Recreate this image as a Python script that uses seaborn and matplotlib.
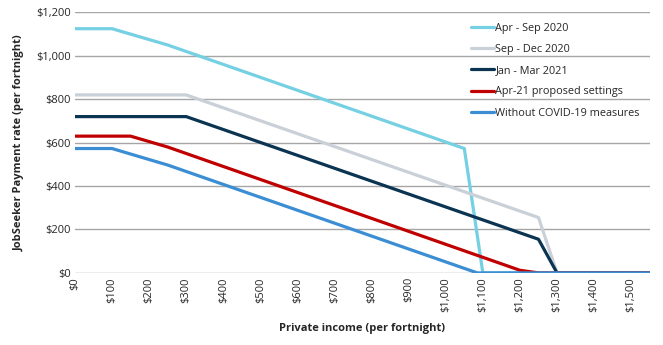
import numpy as np
import pandas as pd
import matplotlib
matplotlib.use("Agg")
import matplotlib.pyplot as plt
import seaborn as sns

series = ["Apr - Sep 2020", "Sep - Dec 2020", "Jan - Mar 2021",
          "Apr-21 proposed settings", "Without COVID-19 measures"]
colors = ["#74D0E2", "#C9D0D7", "#0A3452", "#C00000", "#3B8ED3"]

apr_sep_x = [0, 100, 250, 1050, 1100, 1550]
apr_sep_y = [1125, 1125, 1050, 573, 0, 0]
sep_dec_x = [0, 300, 1250, 1300, 1550]
sep_dec_y = [820, 820, 255, 0, 0]
jan_mar_x = [0, 300, 1250, 1300, 1550]
jan_mar_y = [720, 720, 155, 0, 0]
apr21_x = [0, 150, 250, 1200, 1250, 1550]
apr21_y = [630, 630, 580, 12, 0, 0]
nocovid_x = [0, 100, 250, 1085, 1550]
nocovid_y = [573, 573, 497, 0, 0]

xs = [apr_sep_x, sep_dec_x, jan_mar_x, apr21_x, nocovid_x]
ys = [apr_sep_y, sep_dec_y, jan_mar_y, apr21_y, nocovid_y]

rows = []
for name, x, y in zip(series, xs, ys):
    for a, b in zip(x, y):
        rows.append({"income": a, "payment": b, "series": name})
df = pd.DataFrame(rows)

sns.set_theme(style="white")
plt.rcParams["font.family"] = ["Open Sans", "DejaVu Sans"]

fig = plt.figure(figsize=(6.63, 3.45), dpi=100)
ax = fig.add_axes([0.113, 0.209, 0.867, 0.755])

sns.lineplot(data=df, x="income", y="payment", hue="series", hue_order=series,
             palette=colors, linewidth=2.3, sort=False, estimator=None, ax=ax,
             zorder=3)

ax.set_xlim(0, 1550)
ax.set_ylim(0, 1200)
ax.set_yticks(np.arange(0, 1201, 200))
ax.set_yticklabels([f"${v:,.0f}" for v in np.arange(0, 1201, 200)], fontsize=8)
ax.set_xticks(np.arange(0, 1501, 100))
ax.set_xticklabels([f"${v:,.0f}" for v in np.arange(0, 1501, 100)], rotation=90, fontsize=8)
ax.tick_params(axis="both", length=0, pad=3)
ax.yaxis.grid(True, color="#A6A6A6", linewidth=1.0, zorder=0)
ax.xaxis.grid(False)
for s in ax.spines.values():
    s.set_visible(False)

ax.set_xlabel("Private income (per fortnight)", fontsize=8, fontweight="bold", labelpad=8)
ax.set_ylabel("JobSeeker Payment rate (per fortnight)", fontsize=8, fontweight="bold", labelpad=8)

handles, labels = ax.get_legend_handles_labels()
leg = ax.legend(handles, labels, loc="upper left", bbox_to_anchor=(0.675, 0.99),
                frameon=False, fontsize=7.8, handlelength=2.2, handletextpad=0.1,
                labelspacing=0.95, borderaxespad=0.3)
for h in leg.get_lines():
    h.set_linewidth(2.3)

fig.savefig("out.png", dpi=100, facecolor="white")
